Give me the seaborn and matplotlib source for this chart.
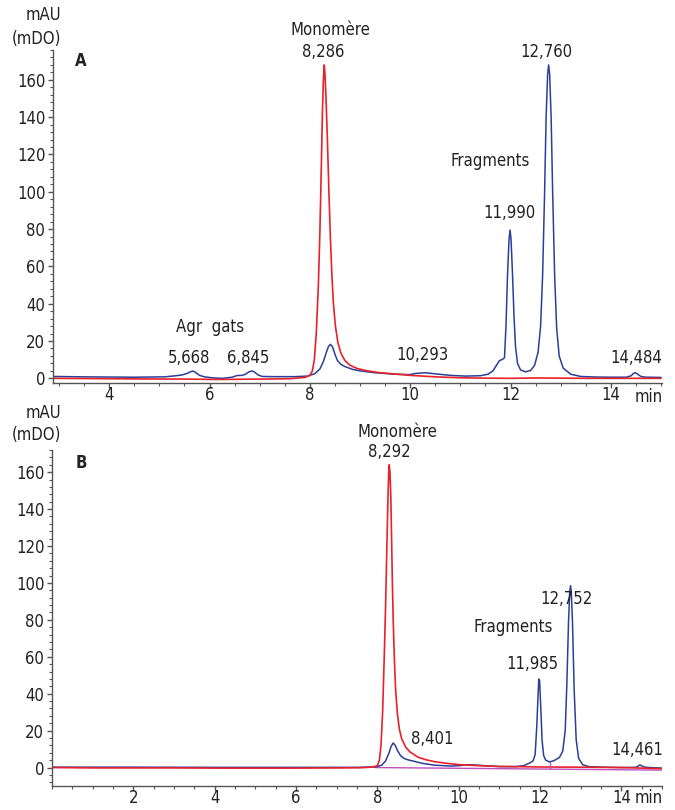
import numpy as np
import pandas as pd
import matplotlib
matplotlib.use("Agg")
import matplotlib.pyplot as plt
import seaborn as sns
from matplotlib import font_manager
from matplotlib.ticker import MultipleLocator, FixedLocator

# ---------------- data ----------------
# Panel A – red trace (monomer reference)
ta_red = [2.88, 3.5, 4.5, 5.5, 6.2, 7.0, 7.6, 7.9, 8.0, 8.05, 8.09, 8.13, 8.17, 8.20, 8.23,
          8.25, 8.27, 8.286, 8.30, 8.32, 8.35, 8.38, 8.41, 8.44, 8.47, 8.51, 8.56, 8.62, 8.7,
          8.8, 8.95, 9.15, 9.4, 9.7, 10.0, 10.5, 11.0, 11.5, 12.0, 12.5, 13.0, 13.5, 14.0,
          14.5, 15.0]
va_red = [0.0, -0.1, -0.3, -0.4, -0.6, -0.4, -0.2, 0.5, 1.5, 4, 10, 25, 50, 78, 115,
          142, 160, 168, 164, 152, 128, 100, 75, 55, 40, 28, 19, 13.5, 9.5,
          7, 5.2, 4.0, 3.0, 2.3, 1.6, 0.8, 0.3, 0.1, 0.0, 0.2, 0.1, 0.0, 0.0,
          0.0, 0.0]

# Panel A – blue trace (stressed sample)
ta_blue = [2.88, 3.5, 4.5, 5.1, 5.3, 5.45, 5.55, 5.62, 5.668, 5.72, 5.8, 5.9, 6.05, 6.25,
           6.45, 6.55, 6.65, 6.72, 6.78, 6.845, 6.9, 6.97, 7.05, 7.3, 7.7, 7.95, 8.1, 8.2,
           8.27, 8.33, 8.37, 8.41, 8.45, 8.5, 8.55, 8.62, 8.7, 8.85, 9.0, 9.3, 9.7, 10.0,
           10.1, 10.3, 10.5, 10.8, 11.1, 11.4, 11.55, 11.65, 11.72, 11.78, 11.84, 11.88,
           11.91, 11.94, 11.97, 11.99, 12.01, 12.04, 12.07, 12.10, 12.14, 12.2, 12.3, 12.4,
           12.48, 12.55, 12.60, 12.64, 12.68, 12.71, 12.74, 12.76, 12.78, 12.81, 12.84,
           12.88, 12.92, 12.97, 13.05, 13.2, 13.4, 13.7, 14.0, 14.3, 14.4, 14.45, 14.484,
           14.53, 14.6, 14.7, 15.0]
va_blue = [1.0, 0.8, 0.6, 0.8, 1.3, 1.8, 2.6, 3.5, 3.9, 3.2, 1.6, 0.8, 0.3, 0.0,
           0.6, 1.5, 1.6, 2.2, 3.4, 4.0, 3.3, 1.8, 1.0, 0.9, 0.9, 1.2, 2.5, 5,
           9, 14, 17, 18.2, 17, 13, 9.5, 7.5, 6.3, 4.8, 4.0, 3.0, 2.2, 2.0,
           2.6, 3.0, 2.4, 1.6, 1.2, 1.4, 2.2, 4.0, 7, 9.5, 10.2, 11,
           28, 55, 74, 79.5, 75, 56, 33, 17, 8, 4.5, 3.5, 4.2,
           7, 14, 28, 55, 100, 140, 163, 168, 163, 140, 100,
           55, 27, 12, 5.5, 2.2, 1.0, 0.7, 0.6, 0.6, 1.3, 2.6, 3.0,
           2.3, 1.0, 0.6, 0.5]

# Panel B – red trace
tb_red = [0, 1, 2, 3, 4, 5, 6, 7, 7.6, 7.9, 8.0, 8.05, 8.09, 8.13, 8.17, 8.20, 8.23, 8.26,
          8.28, 8.292, 8.31, 8.33, 8.35, 8.37, 8.39, 8.42, 8.45, 8.49, 8.54, 8.6, 8.7, 8.8,
          9.0, 9.2, 9.4, 9.7, 10.0, 10.5, 11, 12, 13, 14, 15]
vb_red = [0.0, -0.2, -0.2, -0.2, -0.3, -0.3, -0.3, -0.2, -0.1, 0.3, 1.0, 4, 12, 30, 60, 85,
          115, 145, 160, 164, 160, 148, 125, 100, 80, 58, 42, 30, 21, 15.5, 11, 8.5,
          5.6, 4.2, 3.2, 2.3, 1.6, 1.0, 0.6, 0.3, 0.2, 0.0, -0.6]

# Panel B – blue trace
tb_blue = [0, 2, 4, 6, 7.5, 7.95, 8.1, 8.2, 8.28, 8.34, 8.39, 8.44, 8.5, 8.57, 8.65, 8.75,
           8.9, 9.1, 9.4, 9.8, 10.0, 10.2, 10.4, 10.7, 11.0, 11.4, 11.6, 11.75, 11.83, 11.88,
           11.92, 11.95, 11.97, 11.99, 12.02, 12.05, 12.09, 12.14, 12.24, 12.35, 12.48,
           12.56, 12.62, 12.66, 12.70, 12.73, 12.752, 12.77, 12.80, 12.84, 12.89, 12.95,
           13.05, 13.2, 13.5, 14.0, 14.35, 14.42, 14.46, 14.5, 14.58, 14.7, 15.0]
vb_blue = [0.2, 0.2, 0.1, 0.1, 0.1, 0.3, 1.2, 3.5, 7.5, 11.5, 13.3, 12, 9, 6.5, 5, 4.2,
           3.4, 2.3, 1.3, 0.8, 1.0, 1.5, 1.4, 0.9, 0.5, 0.5, 1.0, 2.5, 3.6, 7,
           22, 38, 48, 47, 32, 15, 6.5, 4, 3.0, 3.8, 5.5,
           9, 20, 45, 78, 95, 98.5, 95, 78, 42, 15, 5,
           1.5, 0.5, 0.2, 0.0, 0.1, 0.9, 1.4, 0.9, 0.2, 0.0, -0.3]

# Panel B – integration baseline (magenta)
tb_base = [7.95, 15.0]
vb_base = [0.0, -1.4]

# Axis ticks
a_xticks = [4, 6, 8, 10, 12, 14]
b_xticks = [2, 4, 6, 8, 10, 12, 14]
yticks = [0, 20, 40, 60, 80, 100, 120, 140, 160]

# Peak annotations (label, x, y)
a_labels = ["Monomère", "8,286", "12,760", "Fragments", "11,990", "Agr  gats",
            "5,668", "6,845", "10,293", "14,484"]
a_lx = [8.42, 8.26, 12.72, 11.60, 11.98, 6.02, 5.60, 6.78, 10.24, 14.50]
a_ly = [186.5, 175.0, 175.0, 116.3, 88.4, 27.3, 10.7, 10.7, 12.3, 10.7]

b_labels = ["Monomère", "8,292", "12,752", "Fragments", "11,985", "8,401", "14,461"]
b_lx = [8.50, 8.30, 12.66, 11.35, 11.82, 9.34, 14.40]
b_ly = [181.6, 170.8, 91.3, 76.2, 56.2, 15.7, 9.7]

# ---------------- style ----------------
sns.set_theme(style="ticks")
avail = {f.name for f in font_manager.fontManager.ttflist}
if "Liberation Sans Narrow" in avail:
    plt.rcParams["font.family"] = ["Liberation Sans Narrow", "DejaVu Sans"]
    FS = 14
else:
    plt.rcParams["font.family"] = ["DejaVu Sans"]
    plt.rcParams["font.stretch"] = "condensed"
    FS = 12

RED = "#e8212b"
BLUE = "#2b3f98"
MAG = "#c050c0"
SPINE = "#555555"
TXT = "#222222"

W, H = 675, 810
fig = plt.figure(figsize=(W / 100, H / 100), dpi=100)


def fx(x):
    return x / W


def fy(y):
    return 1 - y / H


axA = fig.add_axes([fx(53), fy(383), (662 - 53) / W, (383 - 50) / H])
axB = fig.add_axes([fx(52), fy(786), (662 - 52) / W, (786 - 450) / H])

dfA_b = pd.DataFrame({"t": ta_blue, "v": va_blue})
dfA_r = pd.DataFrame({"t": ta_red, "v": va_red})
dfB_b = pd.DataFrame({"t": tb_blue, "v": vb_blue})
dfB_r = pd.DataFrame({"t": tb_red, "v": vb_red})
dfB_base = pd.DataFrame({"t": tb_base, "v": vb_base})

sns.lineplot(data=dfA_b, x="t", y="v", ax=axA, color=BLUE, lw=1.1, sort=False, estimator=None)
sns.lineplot(data=dfA_r, x="t", y="v", ax=axA, color=RED, lw=1.2, sort=False, estimator=None)

sns.lineplot(data=dfB_base, x="t", y="v", ax=axB, color=MAG, lw=1.0, sort=False, estimator=None)
sns.lineplot(data=dfB_b, x="t", y="v", ax=axB, color=BLUE, lw=1.1, sort=False, estimator=None)
sns.lineplot(data=dfB_r, x="t", y="v", ax=axB, color=RED, lw=1.2, sort=False, estimator=None)
axB.vlines([12.24], -0.8, 3.0, color=MAG, lw=1.0)

axA.set_xlim(2.88, 15.02)
axA.set_ylim(-2.5, 176)
axB.set_xlim(0, 15.0)
axB.set_ylim(-10, 172)

for ax, xt in ((axA, a_xticks), (axB, b_xticks)):
    ax.set_xlabel("")
    ax.set_ylabel("")
    for s in ("top", "right"):
        ax.spines[s].set_visible(False)
    for s in ("left", "bottom"):
        ax.spines[s].set_color(SPINE)
        ax.spines[s].set_linewidth(1.0)
    ax.xaxis.set_major_locator(FixedLocator(xt))
    ax.xaxis.set_minor_locator(MultipleLocator(0.5))
    ax.yaxis.set_major_locator(FixedLocator(yticks))
    ax.yaxis.set_minor_locator(MultipleLocator(4))
    ax.set_xticklabels([str(v) for v in xt])
    ax.set_yticklabels([str(v) for v in yticks])
    ax.tick_params(which="major", direction="out", length=3.5, width=1.0, color=SPINE,
                   labelsize=FS, labelcolor=TXT)
    ax.tick_params(which="minor", direction="out", length=2, width=0.8, color=SPINE)
    ax.tick_params(axis="x", which="major", pad=-1)
    ax.tick_params(axis="y", which="major", pad=2)
    ax.patch.set_alpha(0)

for lab, x, y in zip(a_labels, a_lx, a_ly):
    axA.text(x, y, lab, ha="center", va="center", fontsize=FS, color=TXT, clip_on=False)
for lab, x, y in zip(b_labels, b_lx, b_ly):
    axB.text(x, y, lab, ha="center", va="center", fontsize=FS, color=TXT, clip_on=False)

# units / panel letters / "min"
for (yu, yd) in ((15, 39), (413, 435)):
    fig.text(fx(61), fy(yu), "mAU", ha="right", va="center", fontsize=FS, color=TXT)
    fig.text(fx(61), fy(yd), "(mDO)", ha="right", va="center", fontsize=FS, color=TXT)
fig.text(fx(81), fy(61), "A", ha="center", va="center", fontsize=FS, fontweight="bold", color=TXT)
fig.text(fx(81), fy(463), "B", ha="center", va="center", fontsize=FS, fontweight="bold", color=TXT)
fig.text(fx(649), fy(397), "min", ha="center", va="center", fontsize=FS, color=TXT)
fig.text(fx(649), fy(798), "min", ha="center", va="center", fontsize=FS, color=TXT)

fig.savefig("out.png", dpi=100)
